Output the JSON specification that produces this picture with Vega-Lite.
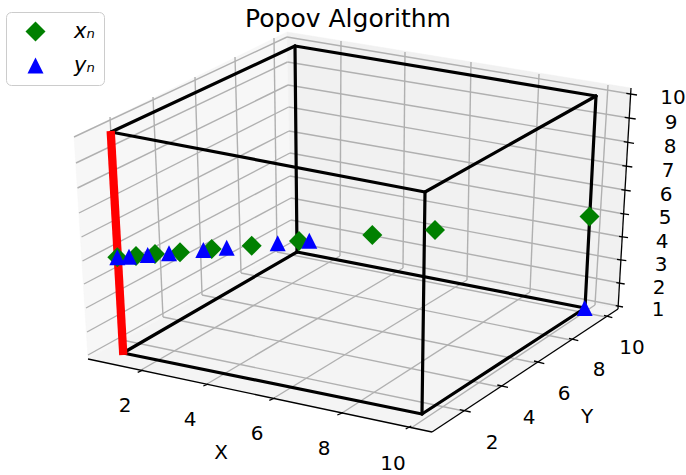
{
"$schema":"https://vega.github.io/schema/vega-lite/v6.json",
"width":686,"height":475,"autosize":"none","padding":0,"background":"white",
"title":{"text":"Popov Algorithm","font":"DejaVu Sans","fontSize":25,"fontWeight":"normal","color":"black","anchor":"middle","offset":-32,"dx":5},
"config":{"view":{"stroke":null}},
"encoding":{
 "x":{"field":"sx","type":"quantitative","scale":{"domain":[0,686]},"axis":null},
 "y":{"field":"sy","type":"quantitative","scale":{"domain":[475,0]},"axis":null}
},
"layer":[
{"data":{"values":[
 {"sx":74,"sy":137,"o":1},{"sx":287,"sy":32,"o":2},{"sx":292,"sy":246,"o":3},{"sx":88,"sy":359,"o":4},{"sx":74,"sy":137,"o":5}]},
 "mark":{"type":"line","fill":"#f7f7f7","stroke":"#f7f7f7","strokeWidth":0.5},"encoding":{"order":{"field":"o","type":"quantitative"}}},
{"data":{"values":[
 {"sx":287,"sy":32,"o":1},{"sx":631,"sy":88,"o":2},{"sx":618,"sy":309,"o":3},{"sx":292,"sy":246,"o":4},{"sx":287,"sy":32,"o":5}]},
 "mark":{"type":"line","fill":"#f1f1f1","stroke":"#f1f1f1","strokeWidth":0.5},"encoding":{"order":{"field":"o","type":"quantitative"}}},
{"data":{"values":[
 {"sx":88,"sy":359,"o":1},{"sx":292,"sy":246,"o":2},{"sx":618,"sy":309,"o":3},{"sx":432,"sy":432,"o":4},{"sx":88,"sy":359,"o":5}]},
 "mark":{"type":"line","fill":"#f4f4f4","stroke":"#f4f4f4","strokeWidth":0.5},"encoding":{"order":{"field":"o","type":"quantitative"}}},
{"data":{"values":[
 {"sx":141,"sy":370,"ex":340,"ey":256},{"sx":340,"sy":256,"ex":341,"ey":41},
 {"sx":207,"sy":384,"ex":403,"ey":268},{"sx":403,"sy":268,"ex":405,"ey":52},
 {"sx":274,"sy":398,"ex":467,"ey":280},{"sx":467,"sy":280,"ex":471,"ey":62},
 {"sx":342,"sy":413,"ex":530,"ey":292},{"sx":530,"sy":292,"ex":539,"ey":74},
 {"sx":411,"sy":428,"ex":595,"ey":305},{"sx":595,"sy":305,"ex":608,"ey":85},
 {"sx":464,"sy":411,"ex":122,"ey":340},{"sx":122,"sy":340,"ex":110,"ey":117},
 {"sx":500,"sy":387,"ex":163,"ey":317},{"sx":163,"sy":317,"ex":153,"ey":97},
 {"sx":536,"sy":363,"ex":202,"ey":295},{"sx":202,"sy":295,"ex":195,"ey":77},
 {"sx":571,"sy":340,"ex":241,"ey":273},{"sx":241,"sy":273,"ex":235,"ey":57},
 {"sx":606,"sy":317,"ex":277,"ey":252},{"sx":277,"sy":252,"ex":274,"ey":38},
 {"sx":74,"sy":137,"ex":287,"ey":37},{"sx":287,"sy":37,"ex":631,"ey":94},
 {"sx":76,"sy":163,"ex":287.5,"ey":62},{"sx":287.5,"sy":62,"ex":629.5,"ey":118},
 {"sx":77.5,"sy":188,"ex":288,"ey":85},{"sx":288,"sy":85,"ex":628,"ey":142},
 {"sx":79,"sy":213,"ex":288.7,"ey":107},{"sx":288.7,"sy":107,"ex":627,"ey":166},
 {"sx":81.5,"sy":237,"ex":289,"ey":131},{"sx":289,"sy":131,"ex":625,"ey":190},
 {"sx":82.5,"sy":261,"ex":290,"ey":153},{"sx":290,"sy":153,"ex":624,"ey":214},
 {"sx":84,"sy":284,"ex":290,"ey":176},{"sx":290,"sy":176,"ex":622.5,"ey":237},
 {"sx":86,"sy":308,"ex":291,"ey":198},{"sx":291,"sy":198,"ex":621,"ey":260},
 {"sx":87,"sy":332,"ex":291,"ey":220},{"sx":291,"sy":220,"ex":620,"ey":283},
 {"sx":88,"sy":355,"ex":292,"ey":242},{"sx":292,"sy":242,"ex":618.5,"ey":306}
 ]},
 "mark":{"type":"rule","color":"#b0b0b0","strokeWidth":1.4},
 "encoding":{"x2":{"field":"ex"},"y2":{"field":"ey"}}},
{"data":{"values":[
 {"sx":88,"sy":359,"ex":432,"ey":432},{"sx":432,"sy":432,"ex":618,"ey":309},{"sx":618,"sy":309,"ex":631,"ey":88},
 {"sx":137.7,"sy":372.3,"ex":143.3,"ey":370},{"sx":203.3,"sy":386,"ex":208.3,"ey":384},{"sx":269.3,"sy":400.3,"ex":275,"ey":398},{"sx":337.3,"sy":415,"ex":343,"ey":412.7},{"sx":405.7,"sy":429,"ex":411.3,"ey":426},
 {"sx":459.7,"sy":409.7,"ex":470.7,"ey":412},{"sx":497.3,"sy":385,"ex":508,"ey":387.3},{"sx":534,"sy":361,"ex":544.3,"ey":363.7},{"sx":569,"sy":338.3,"ex":578.3,"ey":340.7},{"sx":604,"sy":315.3,"ex":612.3,"ey":317.7},
 {"sx":626.3,"sy":93.3,"ex":637,"ey":95},{"sx":624.7,"sy":117.3,"ex":635.7,"ey":119},{"sx":623.7,"sy":141.7,"ex":634,"ey":143.3},{"sx":622.3,"sy":165.7,"ex":632.3,"ey":167},{"sx":621.3,"sy":189.7,"ex":630.7,"ey":191},{"sx":620.3,"sy":213.3,"ex":629,"ey":214.7},{"sx":619,"sy":236.3,"ex":628,"ey":237.7},{"sx":617,"sy":259.3,"ex":626.3,"ey":260.7},{"sx":616.3,"sy":282.7,"ex":624.7,"ey":284},{"sx":615.7,"sy":305.7,"ex":623,"ey":307}
 ]},
 "mark":{"type":"rule","color":"black","strokeWidth":1.3},
 "encoding":{"x2":{"field":"ex"},"y2":{"field":"ey"}}},
{"data":{"values":[
 {"sx":111,"sy":132,"ex":295,"ey":46},{"sx":295,"sy":46,"ex":596,"ey":96},{"sx":596,"sy":96,"ex":425,"ey":192},{"sx":425,"sy":192,"ex":111,"ey":132},
 {"sx":123,"sy":353,"ex":297,"ey":252},{"sx":297,"sy":252,"ex":585,"ey":308},{"sx":585,"sy":308,"ex":422,"ey":414},{"sx":422,"sy":414,"ex":123,"ey":353},
 {"sx":295,"sy":46,"ex":297,"ey":252},{"sx":596,"sy":96,"ex":585,"ey":308},{"sx":425,"sy":192,"ex":422,"ey":414}
 ]},
 "mark":{"type":"rule","color":"black","strokeWidth":3.2,"strokeCap":"round"},
 "encoding":{"x2":{"field":"ex"},"y2":{"field":"ey"}}},
{"data":{"values":[{"sx":110.7,"sy":131,"ex":123.3,"ey":355}]},
 "mark":{"type":"rule","color":"#ff0000","strokeWidth":8.3},
 "encoding":{"x2":{"field":"ex"},"y2":{"field":"ey"}}},
{"data":{"values":[
 {"sx":117.3,"sy":257.3,"series":"xₙ"},{"sx":136,"sy":256,"series":"xₙ"},{"sx":155,"sy":254,"series":"xₙ"},{"sx":180,"sy":252.3,"series":"xₙ"},{"sx":211.7,"sy":249,"series":"xₙ"},{"sx":251.7,"sy":245.7,"series":"xₙ"},{"sx":299,"sy":241,"series":"xₙ"},{"sx":372.3,"sy":235,"series":"xₙ"},{"sx":435,"sy":230,"series":"xₙ"},{"sx":589.5,"sy":216.5,"series":"xₙ"},
 {"sx":117.3,"sy":257.3,"series":"yₙ"},{"sx":129,"sy":256.7,"series":"yₙ"},{"sx":147.7,"sy":255,"series":"yₙ"},{"sx":169,"sy":253.3,"series":"yₙ"},{"sx":203.3,"sy":250,"series":"yₙ"},{"sx":226.7,"sy":247.7,"series":"yₙ"},{"sx":277.7,"sy":243.3,"series":"yₙ"},{"sx":309.3,"sy":240.7,"series":"yₙ"},{"sx":584.7,"sy":308,"series":"yₙ"}
 ]},
 "mark":{"type":"point","filled":true,"opacity":1,"size":400},
 "encoding":{
  "color":{"field":"series","type":"nominal","scale":{"domain":["xₙ","yₙ"],"range":["#008000","#0000ff"]},
   "legend":{"title":null,"orient":"none","legendX":6,"legendY":12,"fillColor":"white","strokeColor":"#cccccc","cornerRadius":5,"padding":9,"symbolSize":400,"symbolOpacity":1,"symbolStrokeWidth":0,"symbolOffset":10,"labelOffset":28,"labelFont":"DejaVu Sans","labelFontStyle":"italic","labelFontSize":21,"labelColor":"black","rowPadding":12}},
  "shape":{"field":"series","type":"nominal","scale":{"domain":["xₙ","yₙ"],"range":["diamond","M-0.8,0.8L0.8,0.8L0,-0.8Z"]}}
 }},
{"data":{"values":[
 {"sx":125,"sy":406,"t":"2"},{"sx":190,"sy":420,"t":"4"},{"sx":257,"sy":434,"t":"6"},{"sx":324,"sy":449,"t":"8"},{"sx":393,"sy":464,"t":"10"},
 {"sx":492,"sy":443,"t":"2"},{"sx":529,"sy":418,"t":"4"},{"sx":564,"sy":394,"t":"6"},{"sx":599,"sy":370,"t":"8"},{"sx":632,"sy":348,"t":"10"},
 {"sx":673,"sy":98,"t":"10"},{"sx":671,"sy":123,"t":"9"},{"sx":670,"sy":147,"t":"8"},{"sx":668,"sy":171,"t":"7"},{"sx":666,"sy":195,"t":"6"},{"sx":665,"sy":218,"t":"5"},{"sx":662,"sy":242,"t":"4"},{"sx":661,"sy":265,"t":"3"},{"sx":659,"sy":288,"t":"2"},{"sx":658,"sy":310,"t":"1"},
 {"sx":221,"sy":453,"t":"X"},{"sx":587,"sy":417,"t":"Y"}
 ]},
 "mark":{"type":"text","font":"DejaVu Sans","fontSize":20,"color":"black","align":"center","baseline":"middle"},
 "encoding":{"text":{"field":"t","type":"nominal"}}}
]
}
